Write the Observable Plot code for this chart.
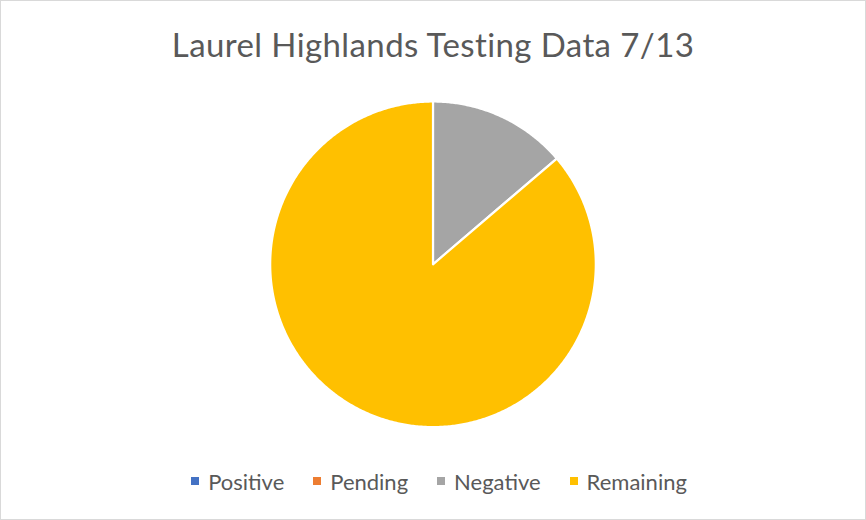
<!DOCTYPE html>
<html>
<head>
<meta charset="utf-8">
<script src="https://cdn.jsdelivr.net/npm/d3@7"></script>
<script src="https://cdn.jsdelivr.net/npm/@observablehq/plot@0.6"></script>
<style>
  html, body { margin: 0; padding: 0; background: #fff; }
  #chart {
    position: relative; width: 866px; height: 520px; box-sizing: border-box;
    border: 1px solid #d9d9d9; background: #fff; font-family: Lato, "Open Sans", sans-serif; color: #595959;
    overflow: hidden;
  }
  #title {
    position: absolute; left: 0; top: 0; width: 100%; height: 86px;
    display: flex; align-items: center; justify-content: center;
    font-size: 33px; letter-spacing: 0.4px; color: #595959;
  }
  #plot { position: absolute; left: -1px; top: 98px; }
  #legend {
    position: absolute; left: 6px; top: 465px; width: 100%; height: 30px;
    display: flex; align-items: center; justify-content: center; font-size: 22px; color: #595959;
  }
  .item { display: flex; align-items: center; margin: 0 14.5px; }
  .sw { width: 8px; height: 8px; margin-right: 9px; }
</style>
</head>
<body>
<div id="chart">
  <div id="title">Laurel Highlands Testing Data 7/13</div>
  <div id="plot"></div>
  <div id="legend"></div>
</div>
<script>
const categories = ["Positive", "Pending", "Negative", "Remaining"];
const values = [0, 0, 11, 69];
const colors = ["#4472C4", "#ED7D31", "#A5A5A5", "#FFC000"];

const data = categories.map((c, i) => ({category: c, value: values[i]}));
const arcs = d3.pie().sort(null).value(d => d.value)(data);

// Build slice outlines (polygon vertices) from the pie angles
const pts = [];
arcs.forEach(a => {
  if (a.data.value <= 0) return;
  const name = a.data.category;
  pts.push({category: name, x: 0, y: 0});
  const span = a.endAngle - a.startAngle;
  const n = Math.max(2, Math.ceil(span / (Math.PI / 360)));
  for (let k = 0; k <= n; k++) {
    const t = a.startAngle + span * k / n;
    pts.push({category: name, x: Math.sin(t), y: Math.cos(t)});
  }
});

const plot = Plot.plot({
  width: 866,
  height: 330,
  marginLeft: 270,
  marginRight: 270,
  marginTop: 2,
  marginBottom: 2,
  x: {domain: [-1, 1], axis: null},
  y: {domain: [-1, 1], axis: null},
  color: {domain: categories, range: colors},
  marks: [
    Plot.line(pts, {
      x: "x", y: "y", z: "category", fill: "category",
      stroke: "white", strokeWidth: 2.2, curve: "linear-closed", strokeLinejoin: "round"
    })
  ]
});
document.getElementById("plot").appendChild(plot);

const legend = document.getElementById("legend");
categories.forEach((c, i) => {
  const item = document.createElement("div");
  item.className = "item";
  const sw = document.createElement("div");
  sw.className = "sw";
  sw.style.background = colors[i];
  const label = document.createElement("span");
  label.textContent = c;
  item.appendChild(sw);
  item.appendChild(label);
  legend.appendChild(item);
});
</script>
</body>
</html>
